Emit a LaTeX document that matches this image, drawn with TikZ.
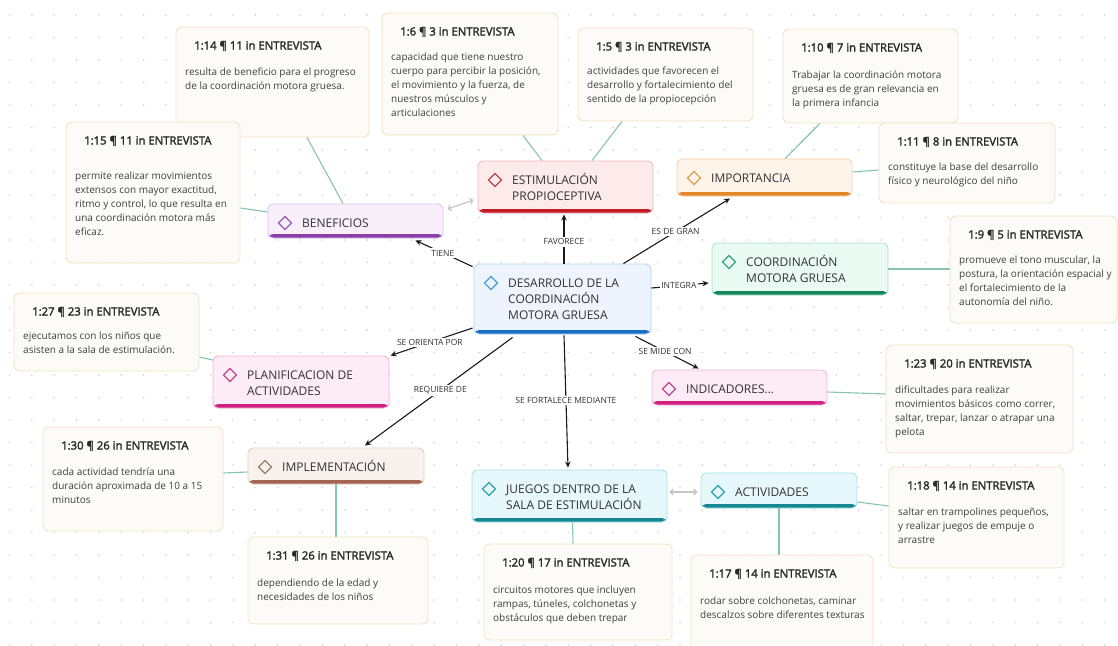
\documentclass[tikz,border=0pt]{standalone}
\usepackage{fontspec}
\setmainfont{Open Sans}
\newfontfamily\titlefont{Open Sans}[FakeBold=2.2]
\usetikzlibrary{arrows.meta}

% palette
\definecolor{cDot}{HTML}{D2D2D2}
\definecolor{cNoteF}{HTML}{FDFBF7}
\definecolor{cNoteD}{HTML}{F2E3C6}
\definecolor{cTitle}{HTML}{2A2A2A}
\definecolor{cBody}{HTML}{404040}
\definecolor{cConcept}{HTML}{333333}
\definecolor{cLink}{HTML}{86C6AE}
\definecolor{cTwin}{HTML}{C6C6C6}
\definecolor{cBlueF}{HTML}{EDF4FD}\definecolor{cBlueD}{HTML}{BCD3EE}\definecolor{cBlueB}{HTML}{1A6DC4}\definecolor{cBlueI}{HTML}{4AA0D5}
\definecolor{cRedF}{HTML}{FDEBEC}\definecolor{cRedD}{HTML}{F1B9BC}\definecolor{cRedB}{HTML}{C01A24}\definecolor{cRedI}{HTML}{B5474B}
\definecolor{cOrangeF}{HTML}{FEF4EA}\definecolor{cOrangeD}{HTML}{F7D3AE}\definecolor{cOrangeB}{HTML}{E5862A}\definecolor{cOrangeI}{HTML}{E0A04E}
\definecolor{cGreenF}{HTML}{E9FAF3}\definecolor{cGreenD}{HTML}{A6E6CC}\definecolor{cGreenB}{HTML}{15875C}\definecolor{cGreenI}{HTML}{39A37E}
\definecolor{cPurpleF}{HTML}{F8EFFB}\definecolor{cPurpleD}{HTML}{DDC6EA}\definecolor{cPurpleB}{HTML}{8B3FA8}\definecolor{cPurpleI}{HTML}{9C5BB5}
\definecolor{cPinkF}{HTML}{FDEBF5}\definecolor{cPinkD}{HTML}{EDB6D6}\definecolor{cPinkB}{HTML}{D1207F}\definecolor{cPinkI}{HTML}{C14897}
\definecolor{cBrownF}{HTML}{F8F1EE}\definecolor{cBrownD}{HTML}{E3D0C7}\definecolor{cBrownB}{HTML}{A4644F}\definecolor{cBrownI}{HTML}{9A8066}
\definecolor{cTealF}{HTML}{E6F8FB}\definecolor{cTealD}{HTML}{A3E2EB}\definecolor{cTealB}{HTML}{178891}\definecolor{cTealI}{HTML}{2CA2B1}

\tikzset{
  cbox/.style={rounded corners=5pt, fill=c#1F, draw=c#1D, line width=0.9pt, inner sep=0pt,
    path picture={\fill[c#1B] ([yshift=4pt]path picture bounding box.south west) rectangle (path picture bounding box.south east);}},
  ctext/.style={inner sep=0pt, align=left, text=cConcept, font=\fontsize{12}{16}\selectfont},
  nbox/.style={rounded corners=6pt, fill=cNoteF, draw=cNoteD, line width=0.9pt, inner sep=0pt},
  ntitle/.style={inner sep=0pt, text=cTitle, font=\titlefont\fontsize{11.3}{13}\selectfont},
  nbody/.style={inner sep=0pt, align=left, text=cBody, font=\fontsize{10}{14}\selectfont},
  rel/.style={draw=black!90, line width=1.1pt, -{Stealth[length=6pt,width=5.5pt]}},
  rlab/.style={fill=white, inner sep=1.5pt, text=cConcept, font=\fontsize{8.5}{10}\selectfont},
  link/.style={draw=cLink, line width=1.1pt},
  twin/.style={draw=cTwin, line width=1.2pt, {Straight Barb[length=3pt,width=6pt]}-{Straight Barb[length=3pt,width=6pt]}}
}

% concept: name, left, top, right, bottom, palette, text
\newcommand\conceptnode[7]{%
  \node[cbox=#6, minimum width={#4-#2}, minimum height={#5-#3}] (#1) at ({(#2+#4)/2},{(#3+#5)/2}) {};
  \draw[line width=1.1pt, draw=c#6I, line join=miter] ({#2+17},{#3+12.5}) -- ++(6.5,6.5) -- ++(-6.5,6.5) -- ++(-6.5,-6.5) -- cycle;
  \node[ctext, anchor=north west] at ({#2+34},{#3+11}) {\rule{0pt}{12pt}#7};
}
% quotation: name, left, top, right, bottom, heading, text, first text line offset
\newcommand\quotenode[8]{%
  \node[nbox, minimum width={#4-#2}, minimum height={#5-#3}] (#1) at ({(#2+#4)/2},{(#3+#5)/2}) {};
  \node[ntitle, anchor=base west] at ({#2+18},{#3+22.5}) {#6};
  \node[nbody, anchor=north west] at ({#2+9},{#3+#8-6}) {\rule{0pt}{9pt}#7};
}

\begin{document}
\begin{tikzpicture}[x=1pt,y=-1pt]
\useasboundingbox (0,0) rectangle (1118,645);
\fill[white] (0,0) rectangle (1118,645);
\foreach \i in {0,...,49}{
  \foreach \j in {0,...,28}{
    \fill[cDot] ({9.5+22.35*\i},{15+22.5*\j}) circle (0.9);
  }
}

% quotations
\quotenode{n14}{176}{27}{369}{137}{1:14 ¶ 11 in ENTREVISTA}{resulta de beneficio para el progreso\\de la coordinación motora gruesa.}{45}
\quotenode{n15}{66}{122}{240}{263}{1:15 ¶ 11 in ENTREVISTA}{permite realizar movimientos\\extensos con mayor exactitud,\\ritmo y control, lo que resulta en\\una coordinación motora más\\eficaz.}{54}
\quotenode{n6}{382}{13}{558}{135}{1:6 ¶ 3 in ENTREVISTA}{capacidad que tiene nuestro\\cuerpo para percibir la posición,\\el movimiento y la fuerza, de\\nuestros músculos y\\articulaciones}{44}
\quotenode{n5}{578}{28}{753}{121}{1:5 ¶ 3 in ENTREVISTA}{actividades que favorecen el\\desarrollo y fortalecimiento del\\sentido de la propiocepción}{43}
\quotenode{n10}{783}{29}{958}{123}{1:10 ¶ 7 in ENTREVISTA}{Trabajar la coordinación motora\\gruesa es de gran relevancia en\\la primera infancia}{46}
\quotenode{n11}{879}{123}{1055}{203}{1:11 ¶ 8 in ENTREVISTA}{constituye la base del desarrollo\\físico y neurológico del niño}{44}
\quotenode{n9}{950}{216}{1117}{323}{1:9 ¶ 5 in ENTREVISTA}{promueve el tono muscular, la\\postura, la orientación espacial y\\el fortalecimiento de la\\autonomía del niño.}{44}
\quotenode{n27}{14}{293}{199}{371}{1:27 ¶ 23 in ENTREVISTA}{ejecutamos con los niños que\\asisten a la sala de estimulación.}{43}
\quotenode{n23}{886}{345}{1073}{453}{1:23 ¶ 20 in ENTREVISTA}{dificultades para realizar\\movimientos básicos como correr,\\saltar, trepar, lanzar o atrapar una\\pelota}{45}
\quotenode{n30}{43}{427}{223}{531}{1:30 ¶ 26 in ENTREVISTA}{cada actividad tendría una\\duración aproximada de 10 a 15\\minutos}{45}
\quotenode{n31}{248}{537}{428}{624}{1:31 ¶ 26 in ENTREVISTA}{dependiendo de la edad y\\necesidades de los niños}{46}
\quotenode{n20}{484}{544}{672}{640}{1:20 ¶ 17 in ENTREVISTA}{circuitos motores que incluyen\\rampas, túneles, colchonetas y\\obstáculos que deben trepar}{46}
\quotenode{n17}{691}{555}{873}{652}{1:17 ¶ 14 in ENTREVISTA}{rodar sobre colchonetas, caminar\\descalzos sobre diferentes texturas}{46}
\quotenode{n18}{889}{467}{1064}{568}{1:18 ¶ 14 in ENTREVISTA}{saltar en trampolines pequeños,\\y realizar juegos de empuje o\\arrastre}{45}

% concepts
\conceptnode{central}{474}{264}{651}{334}{Blue}{DESARROLLO DE LA\\COORDINACIÓN\\MOTORA GRUESA}
\conceptnode{benef}{268}{204}{443}{238}{Purple}{BENEFICIOS}
\conceptnode{estim}{478}{161}{653}{213}{Red}{ESTIMULACIÓN\\PROPIOCEPTIVA}
\conceptnode{impor}{677}{159}{852}{196}{Orange}{IMPORTANCIA}
\conceptnode{coord}{712}{243}{888}{295}{Green}{COORDINACIÓN\\MOTORA GRUESA}
\conceptnode{indic}{652}{370}{827}{405}{Pink}{INDICADORES…}
\conceptnode{planif}{213}{356}{389}{408}{Pink}{PLANIFICACION DE\\ACTIVIDADES}
\conceptnode{impl}{248}{448}{424}{484}{Brown}{IMPLEMENTACIÓN}
\conceptnode{juegos}{472}{470}{667}{522}{Teal}{JUEGOS DENTRO DE LA\\SALA DE ESTIMULACIÓN}
\conceptnode{activ}{701}{473}{857}{508}{Teal}{ACTIVIDADES}

% links from concepts to their quotations
\draw[link] ([xshift=34.5pt]n14.south) -- ([xshift=-12.5pt]benef.north);
\draw[link] ([yshift=-15.5pt]n15.east) -- ([yshift=9pt]benef.west);
\draw[link] ([xshift=53pt]n6.south) -- ([xshift=-23.5pt]estim.north);
\draw[link] ([xshift=-43.5pt]n5.south) -- ([xshift=26.5pt]estim.north);
\draw[link] ([xshift=-50.5pt]n10.south) -- ([xshift=20.5pt]impor.north);
\draw[link] ([yshift=5.5pt]impor.east) -- ([yshift=-7pt]n11.west);
\draw[link] (coord.east) -- (coord.east -| n9.west);
\draw[link] ([yshift=-25pt]n27.east) -- ([yshift=22pt]planif.west);
\draw[link] ([yshift=-4.5pt]indic.east) -- ([yshift=5pt]n23.west);
\draw[link] ([yshift=6pt]n30.east) -- ([yshift=-6pt]impl.west);
\draw[link] (impl.south) -- (impl.south |- n31.north);
\draw[link] ([xshift=3pt]juegos.south) -- ([xshift=-5pt]n20.north);
\draw[link] (activ.south) -- (activ.south |- n17.north);
\draw[link] ([yshift=-11.5pt]activ.east) -- ([yshift=11.5pt]n18.west);

% two-way associations
\draw[twin] ([xshift=4pt,yshift=12pt]benef.east) -- ([xshift=-4pt,yshift=-13pt]estim.west);
\draw[twin] ([xshift=2pt,yshift=4pt]juegos.east) -- ([xshift=-3pt,yshift=-1.5pt]activ.west);

% named relations
\draw[rel] ([xshift=-1pt,yshift=-3pt]central.north west) -- node[rlab, pos=0.52]{TIENE} ([xshift=-28pt,yshift=-2pt]benef.south east);
\draw[rel] ([xshift=1.5pt]central.north) -- node[rlab, pos=0.44]{FAVORECE} ([xshift=-1.5pt,yshift=-1pt]estim.south);
\draw[rel] ([xshift=-28pt]central.north east) -- node[rlab, pos=0.49]{ES DE GRAN} ([xshift=-34.5pt,yshift=-2pt]impor.south);
\draw[rel] ([yshift=11pt]central.east) -- node[rlab, pos=0.48]{INTEGRA} ([xshift=-3pt,yshift=-14pt]coord.west);
\draw[rel] ([xshift=-16pt,yshift=-2pt]central.south east) -- node[rlab, pos=0.47]{SE MIDE CON} ([xshift=47pt,yshift=1pt]indic.north west);
\draw[rel] ([xshift=1.5pt,yshift=-1pt]central.south) -- node[rlab, pos=0.49]{SE FORTALECE MEDIANTE} ([xshift=-1.5pt,yshift=2pt]juegos.north);
\draw[rel] ([xshift=-1pt,yshift=-29pt]central.west) -- node[rlab, pos=0.52]{SE ORIENTA POR} ([xshift=1pt]planif.north east);
\draw[rel] ([xshift=39pt,yshift=-3pt]central.south west) -- node[rlab, pos=0.49]{REQUIERE DE} ([xshift=29pt,yshift=2pt]impl.north);
\end{tikzpicture}
\end{document}
